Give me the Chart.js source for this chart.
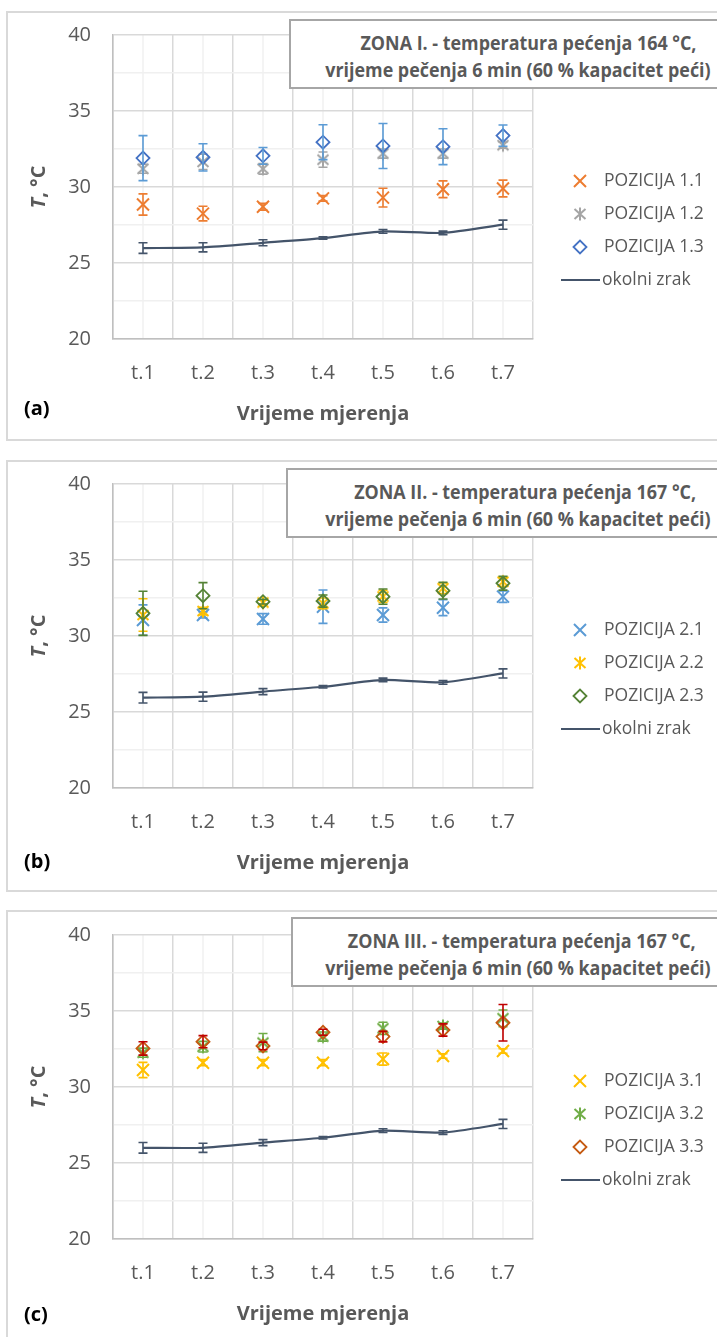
<!DOCTYPE html>
<html>
<head>
<meta charset="utf-8">
<script src="https://cdn.jsdelivr.net/npm/chart.js@4"></script>
<style>
  body { margin: 0; background: #fff; width: 717px; height: 1337px; overflow: hidden; position: relative; font-family: "Open Sans", sans-serif; }
  .panel { position: absolute; left: 6px; width: 740px; border: 2px solid #d9d9d9; box-sizing: border-box; }
  canvas { position: absolute; left: 0; }
  .ytitle { position: absolute; font-weight: bold; font-size: 20px; color: #595959; white-space: nowrap; transform: translate(-50%, -50%) rotate(-90deg); }
  .tbox { position: absolute; width: 460px; height: 70px; border: 2px solid #a6a6a6; background: #fff; box-sizing: border-box; }
  .tline { position: absolute; font-weight: bold; font-size: 20px; color: #595959; white-space: nowrap; transform-origin: 100% 50%; line-height: 24px; }
  .tag { position: absolute; font-weight: bold; font-size: 20px; color: #000; line-height: 24px; }
</style>
</head>
<body>

<div class="panel" style="top:11px;height:430px"></div>
<div class="panel" style="top:460px;height:432px"></div>
<div class="panel" style="top:910px;height:440px"></div>

<canvas id="c1" width="717" height="430" style="top:11px"></canvas>
<canvas id="c2" width="717" height="432" style="top:460px"></canvas>
<canvas id="c3" width="717" height="430" style="top:910px"></canvas>

<div id="overlay"></div>

<script>
// data
const labels = ["t.1", "t.2", "t.3", "t.4", "t.5", "t.6", "t.7"];
const yTickLabels = [20, 25, 30, 35, 40];

// zona I
const poz11 = [28.85, 28.25, 28.7, 29.25, 29.3, 29.85, 29.9];
const poz11Err = [0.7, 0.48, 0.22, 0.18, 0.62, 0.55, 0.55];
const poz12 = [31.2, 31.65, 31.2, 31.8, 32.2, 32.2, 32.75];
const poz12Err = [0.3, 0.5, 0.35, 0.5, 0.3, 0.3, 0.2];
const poz13 = [31.9, 31.95, 32.05, 32.95, 32.7, 32.65, 33.38];
const poz13Err = [1.48, 0.9, 0.55, 1.15, 1.48, 1.18, 0.7];
const zrak1 = [25.98, 26.03, 26.33, 26.64, 27.08, 26.98, 27.52];
const zrak1Err = [0.35, 0.3, 0.2, 0.08, 0.12, 0.12, 0.3];

// zona II
const poz21 = [31.05, 31.38, 31.12, 31.93, 31.38, 31.86, 32.59];
const poz21Err = [1.0, 0.2, 0.35, 1.1, 0.47, 0.52, 0.38];
const poz22 = [31.38, 31.64, 32.2, 32.15, 32.6, 33.14, 33.57];
const poz22Err = [1.07, 0.25, 0.15, 0.35, 0.4, 0.35, 0.3];
const poz23 = [31.49, 32.65, 32.26, 32.3, 32.59, 32.98, 33.47];
const poz23Err = [1.45, 0.86, 0.15, 0.4, 0.5, 0.55, 0.45];
const zrak2 = [25.94, 26.01, 26.34, 26.66, 27.11, 26.95, 27.54];
const zrak2Err = [0.35, 0.3, 0.2, 0.08, 0.12, 0.12, 0.3];

// zona III
const poz31 = [31.12, 31.6, 31.6, 31.6, 31.84, 32.04, 32.37];
const poz31Err = [0.5, 0.2, 0.2, 0.2, 0.4, 0.15, 0.15];
const poz32 = [32.26, 32.65, 32.92, 33.32, 33.86, 34.01, 34.52];
const poz32Err = [0.3, 0.35, 0.6, 0.3, 0.4, 0.2, 0.55];
const poz33 = [32.54, 32.98, 32.7, 33.6, 33.32, 33.75, 34.23];
const poz33Err = [0.44, 0.4, 0.25, 0.2, 0.35, 0.4, 1.2];
const zrak3 = [26.0, 26.0, 26.34, 26.66, 27.13, 27.0, 27.57];
const zrak3Err = [0.35, 0.3, 0.2, 0.08, 0.12, 0.12, 0.3];

Chart.defaults.font.family = "'Open Sans', sans-serif";

// excel style asterisk marker
function asterisk(color) {
  const c = document.createElement("canvas");
  c.width = 16; c.height = 16;
  const g = c.getContext("2d");
  g.strokeStyle = color;
  g.lineWidth = 2;
  g.beginPath();
  g.moveTo(2.5, 3); g.lineTo(13.5, 13);
  g.moveTo(13.5, 3); g.lineTo(2.5, 13);
  g.moveTo(8, 1.5); g.lineTo(8, 14.5);
  g.stroke();
  return c;
}

function cross(label, data, errors, color, errColor) {
  return { label, data, errors, errorColor: errColor || color, showLine: false,
    pointStyle: "crossRot", pointRadius: 8.5, pointBorderWidth: 2, borderColor: color, backgroundColor: color };
}
function star(label, data, errors, color, errColor) {
  return { label, data, errors, errorColor: errColor || color, showLine: false,
    pointStyle: asterisk(color), pointRadius: 8, borderColor: color, backgroundColor: color };
}
function diamond(label, data, errors, color, errColor) {
  return { label, data, errors, errorColor: errColor || color, showLine: false,
    pointStyle: "rectRot", pointRadius: 6.5, pointBorderWidth: 1.8, borderColor: color, backgroundColor: "rgba(0,0,0,0)" };
}
function zrakLine(data, errors) {
  return { label: "okolni zrak", data, errors, errorColor: "#44546a", isLine: true,
    borderColor: "#44546a", borderWidth: 2.2, pointRadius: 0, tension: 0.2, backgroundColor: "#44546a" };
}

// minor gridlines at category centres
const minorGrid = {
  id: "minorGrid",
  beforeDraw(chart) {
    const { ctx, chartArea } = chart;
    const x = chart.scales.x;
    ctx.save();
    ctx.strokeStyle = "#f0f0f0";
    ctx.lineWidth = 1.5;
    labels.forEach((l, i) => {
      const px = x.getPixelForValue(i);
      ctx.beginPath();
      ctx.moveTo(px, chartArea.top);
      ctx.lineTo(px, chartArea.bottom);
      ctx.stroke();
    });
    ctx.restore();
  }
};

const errorBars = {
  id: "errorBars",
  afterDatasetDraw(chart, args) {
    const ds = chart.data.datasets[args.index];
    if (!ds.errors) return;
    const y = chart.scales.y;
    const ctx = chart.ctx;
    ctx.save();
    ctx.strokeStyle = ds.errorColor;
    ctx.lineWidth = 1.6;
    args.meta.data.forEach((pt, i) => {
      const top = y.getPixelForValue(ds.data[i] + ds.errors[i]);
      const bot = y.getPixelForValue(ds.data[i] - ds.errors[i]);
      ctx.beginPath();
      ctx.moveTo(pt.x, top); ctx.lineTo(pt.x, bot);
      ctx.moveTo(pt.x - 4.5, top); ctx.lineTo(pt.x + 4.5, top);
      ctx.moveTo(pt.x - 4.5, bot); ctx.lineTo(pt.x + 4.5, bot);
      ctx.stroke();
    });
    ctx.restore();
  }
};

const sideLegend = {
  id: "sideLegend",
  afterDraw(chart) {
    const ctx = chart.ctx;
    const top = chart.chartArea.top;
    ctx.save();
    ctx.font = "17.5px 'Open Sans'";
    ctx.textBaseline = "middle";
    chart.data.datasets.forEach((ds, i) => {
      const y = top + 146 + 33 * i;
      if (ds.isLine) {
        ctx.strokeStyle = ds.borderColor;
        ctx.lineWidth = 2.2;
        ctx.beginPath();
        ctx.moveTo(561, y); ctx.lineTo(600, y);
        ctx.stroke();
        ctx.fillStyle = "#595959";
        ctx.fillText(ds.label, 602, y);
      } else {
        ctx.strokeStyle = ds.borderColor;
        ctx.fillStyle = ds.backgroundColor;
        ctx.lineWidth = ds.pointBorderWidth || 2;
        Chart.helpers.drawPoint(ctx, { pointStyle: ds.pointStyle, radius: ds.pointRadius, rotation: 0, borderWidth: ctx.lineWidth }, 580, y);
        ctx.fillStyle = "#595959";
        ctx.fillText(ds.label, 604, y);
      }
    });
    ctx.restore();
  }
};

function makeChart(id, padTop, padBottom, sets) {
  // later series drawn on top like in excel
  sets.forEach((s, i) => { s.order = sets.length - i; });
  return new Chart(document.getElementById(id), {
    type: "line",
    data: { labels: labels, datasets: sets },
    options: {
      responsive: false,
      animation: false,
      events: [],
      layout: { padding: { top: padTop, right: 184, bottom: padBottom, left: 0 } },
      plugins: { legend: { display: false }, tooltip: { enabled: false } },
      scales: {
        x: {
          offset: true,
          grid: { offset: true, color: "#d9d9d9", lineWidth: 1.5, drawTicks: false },
          border: { color: "#bfbfbf", width: 1.5 },
          ticks: { color: "#595959", font: { size: 20 }, padding: 22 },
          title: { display: true, text: "Vrijeme mjerenja", color: "#595959",
            font: { size: 20, weight: "bold" }, padding: { top: 0, bottom: 13 } },
          afterFit: (s) => { s.height = 100; }
        },
        y: {
          min: 20, max: 40,
          ticks: { stepSize: 2.5, color: "#595959", font: { size: 20 }, padding: 22,
            callback: (v) => yTickLabels.includes(v) ? v : "" },
          grid: { lineWidth: 1.5, drawTicks: false,
            color: (c) => c.tick && yTickLabels.includes(c.tick.value) ? "#d9d9d9" : "#f0f0f0" },
          border: { color: "#bfbfbf", width: 1.5 },
          // fixed axis width, and no extra room above the top label
          afterFit: (s) => { s.width = 113; s.paddingTop = 0; s.paddingBottom = 0; }
        }
      }
    },
    plugins: [minorGrid, errorBars, sideLegend]
  });
}

makeChart("c1", 24, 2, [
  cross("POZICIJA 1.1", poz11, poz11Err, "#ed7d31"),
  star("POZICIJA 1.2", poz12, poz12Err, "#a5a5a5"),
  diamond("POZICIJA 1.3", poz13, poz13Err, "#4472c4", "#5b9bd5"),
  zrakLine(zrak1, zrak1Err)
]);
makeChart("c2", 24, 4, [
  cross("POZICIJA 2.1", poz21, poz21Err, "#5b9bd5"),
  star("POZICIJA 2.2", poz22, poz22Err, "#ffc000"),
  diamond("POZICIJA 2.3", poz23, poz23Err, "#548235"),
  zrakLine(zrak2, zrak2Err)
]);
makeChart("c3", 25, 1, [
  cross("POZICIJA 3.1", poz31, poz31Err, "#ffc000"),
  star("POZICIJA 3.2", poz32, poz32Err, "#70ad47"),
  diamond("POZICIJA 3.3", poz33, poz33Err, "#c55a11", "#c00000"),
  zrakLine(zrak3, zrak3Err)
]);

// html bits: axis title, title boxes, panel tags
const overlay = document.getElementById("overlay");
const panels = [
  { chartTop: 35, box: [289, 19], tag: "(a)", tagY: 408,
    title: ["ZONA I. - temperatura pećenja 164 °C,", "vrijeme pečenja 6 min (60 % kapacitet peći)"] },
  { chartTop: 484, box: [286, 468], tag: "(b)", tagY: 861,
    title: ["ZONA II. - temperatura pećenja 167 °C,", "vrijeme pečenja 6 min (60 % kapacitet peći)"] },
  { chartTop: 935, box: [291, 917], tag: "(c)", tagY: 1314,
    title: ["ZONA III. - temperatura pećenja 167 °C,", "vrijeme pečenja 6 min (60 % kapacitet peći)"] }
];

const meas = document.createElement("canvas").getContext("2d");
meas.font = "bold 20px 'Open Sans'";
const squeeze = 336 / meas.measureText(panels[0].title[0]).width;

panels.forEach((p) => {
  const yt = document.createElement("div");
  yt.className = "ytitle";
  yt.innerHTML = "<i>T</i>, °C";
  yt.style.left = "37px";
  yt.style.top = (p.chartTop + 152) + "px";
  overlay.appendChild(yt);

  const box = document.createElement("div");
  box.className = "tbox";
  box.style.left = p.box[0] + "px";
  box.style.top = p.box[1] + "px";
  overlay.appendChild(box);

  p.title.forEach((t, i) => {
    const s = document.createElement("div");
    s.className = "tline";
    s.textContent = t;
    const w = meas.measureText(t).width;
    const right = i === 0 ? 696 : 711;
    s.style.left = (right - w) + "px";
    s.style.width = w + "px";
    s.style.top = (p.box[1] + 24 + 27 * i - 12) + "px";
    s.style.transform = "scaleX(" + squeeze + ")";
    overlay.appendChild(s);
  });

  const tag = document.createElement("div");
  tag.className = "tag";
  tag.textContent = p.tag;
  tag.style.left = "24px";
  tag.style.top = (p.tagY - 12) + "px";
  overlay.appendChild(tag);
});
</script>
</body>
</html>
